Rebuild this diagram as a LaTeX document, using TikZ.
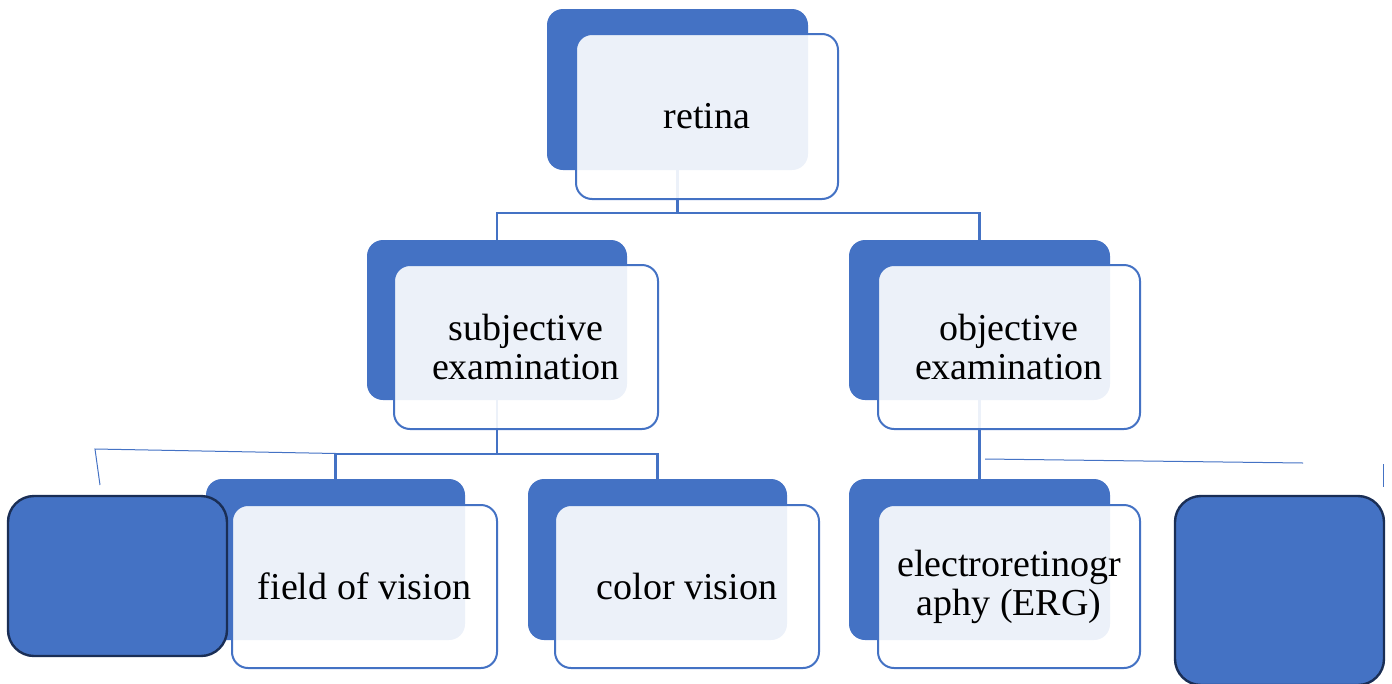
\documentclass[tikz,border=0pt]{standalone}
\usepackage{fontspec}
\setmainfont{Liberation Serif}
\definecolor{accent}{HTML}{4472C4}
\definecolor{navy}{HTML}{1A2E55}
\begin{document}
\begin{tikzpicture}[x=1pt,y=-1pt,
  backbox/.style={fill=accent,rounded corners=16pt,inner sep=0pt,draw=none},
  frontbox/.style={fill=white,fill opacity=0.9,text opacity=1,draw=accent,line width=2pt,rounded corners=16pt,inner sep=0pt,align=center,font=\fontsize{38}{39}\selectfont},
  solidbox/.style={fill=accent,draw=navy,line width=2.4pt,rounded corners=26pt,inner sep=0pt},
  conn/.style={draw=accent,line width=2.5pt},
  thin/.style={draw=accent,line width=1pt}]
\useasboundingbox (0,0) rectangle (1392,683);
% back boxes (positions)
\node[backbox,minimum width=261pt,minimum height=161pt] (topD) at (677.5,89.5) {};
\node[backbox,minimum width=260pt,minimum height=160pt] (subjD) at (497,320) {};
\node[backbox,minimum width=261pt,minimum height=160pt] (objD) at (979.5,320) {};
\node[backbox,minimum width=259pt,minimum height=161pt] (fieldD) at (335.5,559.5) {};
\node[backbox,minimum width=259pt,minimum height=161pt] (colorD) at (657.5,559.5) {};
\node[backbox,minimum width=261pt,minimum height=161pt] (ergD) at (979.5,559.5) {};
% connectors
\coordinate (j1) at (677.5,213);
\coordinate (j2) at (497,454);
\draw[conn] (topD.south) -- (j1);
\draw[conn] (j1) -| (subjD.north);
\draw[conn] (j1) -| (objD.north);
\draw[conn] (subjD.south) -- (j2);
\draw[conn] (j2) -| (fieldD.north);
\draw[conn] (j2) -| (colorD.north);
\draw[conn] (objD.south) -- (ergD.north);
% stray thin lines
\coordinate (t1) at (95,449);
\coordinate (t2) at (336,453.5);
\coordinate (t3) at (100,485);
\coordinate (t4) at (985,459);
\coordinate (t5) at (1303,463);
\coordinate (t6) at (1383,464);
\coordinate (t7) at (1383,487);
\draw[thin] (t3) -- (t1) -- (t2);
\draw[thin] (t4) -- (t5);
\draw[thin] (t6) -- (t7);
% front boxes
\node[frontbox,minimum width=262pt,minimum height=165pt] (top) at (707,116.5) {retina};
\node[frontbox,minimum width=264pt,minimum height=164pt] (subj) at (526,347) {subjective\\examination};
\node[frontbox,minimum width=262pt,minimum height=164pt] (obj) at (1009,347) {objective\\examination};
\node[frontbox,minimum width=265pt,minimum height=163pt] (field) at (364.5,586.5) {field of vision};
\node[frontbox,minimum width=264pt,minimum height=163pt] (color) at (687,586.5) {color vision};
\node[frontbox,minimum width=262pt,minimum height=163pt] (erg) at (1009,586.5) {electroretinogr\\aphy (ERG)};
% solid boxes
\node[solidbox,minimum width=219pt,minimum height=160pt] (leftbox) at (117.5,576) {};
\node[solidbox,minimum width=209pt,minimum height=189pt] (rightbox) at (1279.5,590.5) {};
\end{tikzpicture}
\end{document}
